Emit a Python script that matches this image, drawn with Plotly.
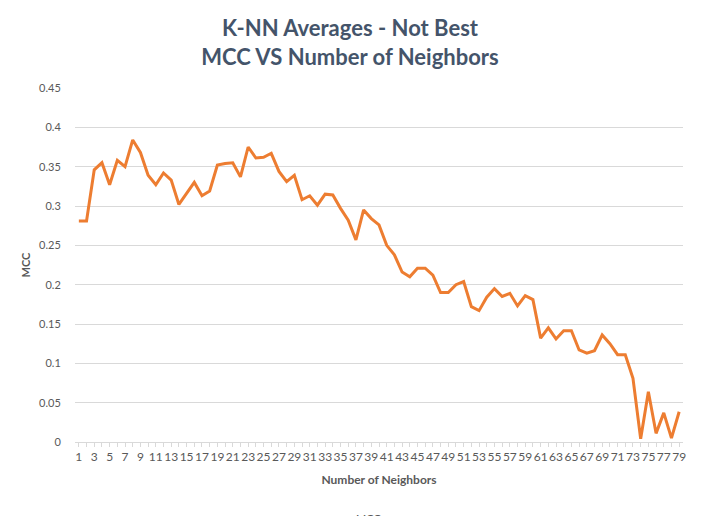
import plotly.graph_objects as go

neighbors = list(range(1, 80))
mcc = [0.281, 0.281, 0.346, 0.355, 0.327, 0.358, 0.350, 0.384, 0.368, 0.339,
       0.327, 0.342, 0.333, 0.302, 0.316, 0.330, 0.313, 0.319, 0.352, 0.354,
       0.355, 0.337, 0.375, 0.361, 0.362, 0.367, 0.344, 0.331, 0.339, 0.308,
       0.313, 0.301, 0.315, 0.314, 0.297, 0.282, 0.257, 0.295, 0.284, 0.276,
       0.250, 0.238, 0.216, 0.210, 0.221, 0.221, 0.212, 0.190, 0.190, 0.200,
       0.204, 0.172, 0.167, 0.184, 0.195, 0.185, 0.189, 0.173, 0.186, 0.181,
       0.132, 0.145, 0.131, 0.1415, 0.1415, 0.117, 0.113, 0.116, 0.136, 0.125,
       0.111, 0.111, 0.081, 0.004, 0.064, 0.011, 0.037, 0.005, 0.0385]
tick_text = [str(n) if n % 2 == 1 else "" for n in neighbors]

title_text = "K-NN Averages - Not Best<br>MCC VS Number of Neighbors"
FONT = "Lato, 'Open Sans', sans-serif"
GRAY = "#595959"

fig = go.Figure()
fig.add_trace(go.Scatter(x=neighbors, y=mcc, mode="lines", name="MCC",
                         line=dict(color="#ED7D31", width=3)))

fig.update_layout(
    width=693, height=508,
    margin=dict(l=67, r=18, t=80, b=74, autoexpand=False),
    paper_bgcolor="white", plot_bgcolor="white",
    showlegend=False,
    font=dict(family=FONT, color=GRAY),
    title=dict(text="<b>" + title_text + "</b>", x=0.4935, xanchor="center",
               xref="container", yref="container",
               y=0.944, yanchor="top",
               font=dict(size=22, color="#44546A", family=FONT)),
    xaxis=dict(range=[0.5, 79.5], tickmode="array", tickvals=neighbors,
               ticktext=tick_text, tickangle=0, automargin=False,
               ticks="outside", ticklen=4,
               tickcolor="#d9d9d9", showline=True, linecolor="#d9d9d9",
               showgrid=False, zeroline=False,
               tickfont=dict(size=12, color=GRAY, family=FONT),
               title=dict(text="<b>Number of Neighbors</b>", standoff=12,
                          font=dict(size=12, color=GRAY, family=FONT))),
    yaxis=dict(range=[0, 0.45], dtick=0.05, showgrid=True, automargin=False,
               gridcolor="#d9d9d9", gridwidth=1, zeroline=False,
               showline=False, ticks="outside", ticklen=11,
               tickcolor="rgba(0,0,0,0)",
               tickfont=dict(size=11, color=GRAY, family=FONT),
               title=dict(text="<b>MCC</b>", standoff=6,
                          font=dict(size=11, color=GRAY, family=FONT))),
)

fig.add_annotation(text="MCC", xref="paper", yref="paper", x=0.482, y=-0.215,
                   showarrow=False, font=dict(size=11, color=GRAY, family=FONT),
                   yanchor="middle")

fig.write_html("out.html")
